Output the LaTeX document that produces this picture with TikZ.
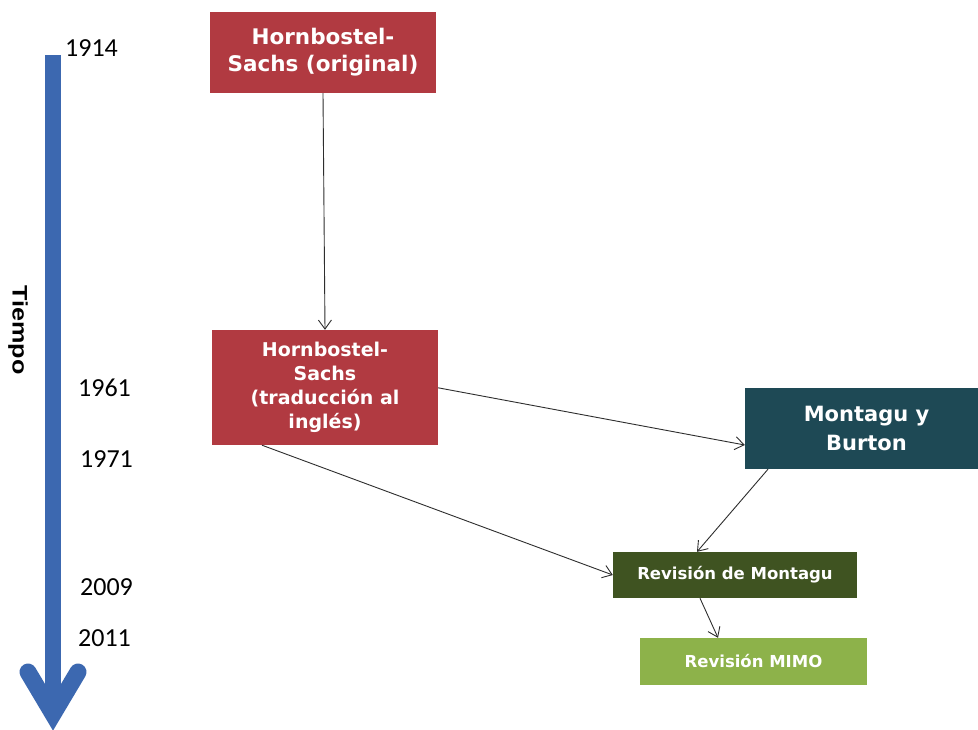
\documentclass[tikz,border=0pt]{standalone}
\usepackage{fontspec}
\setmainfont{DejaVu Sans}
\newfontfamily\yearfont{Carlito}
\newfontfamily\labelfont{Liberation Sans}
\usetikzlibrary{arrows.meta}
\definecolor{hsred}{HTML}{B13A41}
\definecolor{mbteal}{HTML}{1E4955}
\definecolor{rmolive}{HTML}{3F5321}
\definecolor{mimogreen}{HTML}{8DB24A}
\definecolor{timeblue}{HTML}{3C68B0}
\definecolor{linkgray}{HTML}{2E2E2E}
\tikzset{
  stagebox/.style={draw=none, align=center, text=white, font=\bfseries, inner sep=2pt},
  yearlabel/.style={anchor=west, inner sep=0pt, font=\yearfont\fontsize{26}{28}\selectfont, text=black},
  link/.style={draw=linkgray, line width=0.9pt, -{Straight Barb[length=9pt, width=13pt, line width=0.9pt]}},
}
\begin{document}
\begin{tikzpicture}[x=1pt, y=-1pt]
\useasboundingbox (0,0) rectangle (978,729);
\fill[white] (0,0) rectangle (978,729);

% time axis
\fill[timeblue] (45,55) rectangle (61,700);
\draw[timeblue, line width=17pt, line cap=round, line join=miter]
  (28,672) -- (53,714) -- (78,672);
\node[rotate=-90, inner sep=0pt, font=\labelfont\bfseries\fontsize{21}{22}\selectfont] (tiempo) at (18,330)
  {\scalebox{1.2}[1]{Tiempo}};

% years
\node[yearlabel] (y1914) at (65,48) {1914};
\node[yearlabel] (y1961) at (78,388) {1961};
\node[yearlabel] (y1971) at (80,459) {1971};
\node[yearlabel] (y2009) at (80,587) {2009};
\node[yearlabel] (y2011) at (78,638) {2011};

% stages
\node[stagebox, fill=hsred, minimum width=226pt, minimum height=81pt,
  font=\bfseries\fontsize{21.5}{27}\selectfont] (orig) at (323,52.5)
  {Hornbostel-\\Sachs (original)};
\node[stagebox, fill=hsred, minimum width=226pt, minimum height=115pt,
  font=\bfseries\fontsize{19}{24}\selectfont] (trad) at (325,387.5)
  {Hornbostel-\\Sachs\\(traducción al\\inglés)};
\node[stagebox, fill=mbteal, minimum width=233pt, minimum height=81pt,
  font=\bfseries\fontsize{21}{29}\selectfont] (mb) at (861.5,428.5)
  {\hspace*{10pt}Montagu y\\\hspace*{10pt}Burton};
\node[stagebox, fill=rmolive, minimum width=244pt, minimum height=46pt,
  font=\bfseries\fontsize{16.5}{20}\selectfont] (rm) at (735,575)
  {Revisión de Montagu};
\node[stagebox, fill=mimogreen, minimum width=227pt, minimum height=47pt,
  font=\bfseries\fontsize{16.5}{20}\selectfont] (mimo) at (753.5,661.5)
  {Revisión MIMO};

% connector end points on the box borders
\coordinate (tR) at ([yshift=-58pt]trad.north east);
\coordinate (tB) at ([xshift=-63pt]trad.south);
\coordinate (mbB) at ([xshift=-93.5pt]mb.south);
\coordinate (mbL) at ([yshift=-16.5pt]mb.west);
\coordinate (rmT) at ([xshift=-38pt]rm.north);
\coordinate (rmB) at ([xshift=-35pt]rm.south);
\coordinate (mimoT) at ([xshift=-35.5pt]mimo.north);

% links
\draw[link] (orig.south) -- (trad.north);
\draw[link] (tR) -- (mbL);
\draw[link] (tB) -- (rm.west);
\draw[link] (mbB) -- (rmT);
\draw[link] (rmB) -- (mimoT);
\end{tikzpicture}
\end{document}
